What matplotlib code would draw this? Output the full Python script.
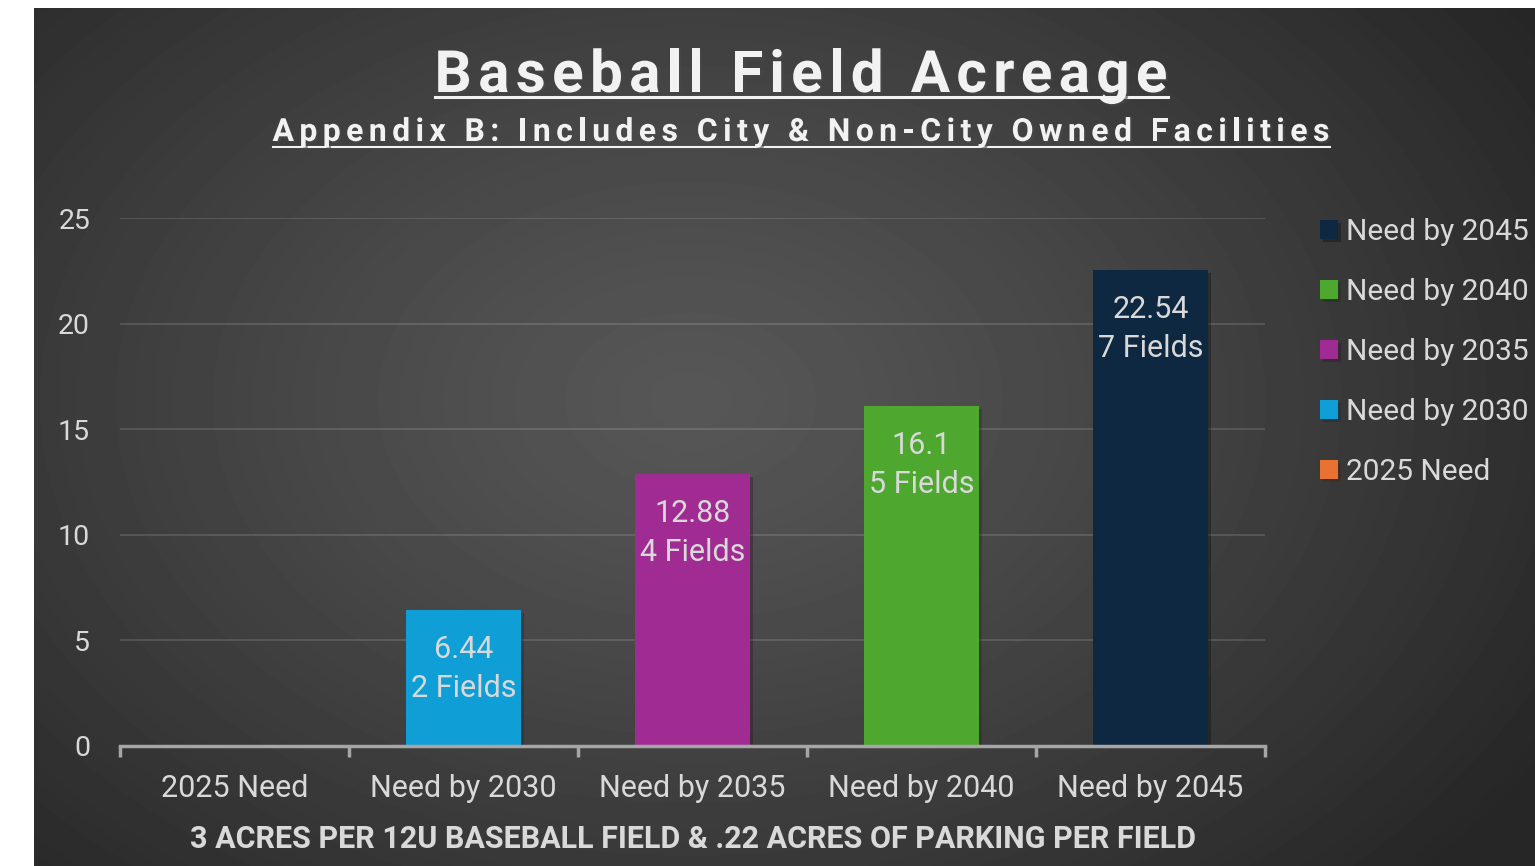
import matplotlib
matplotlib.use('Agg')
import matplotlib.pyplot as plt
import matplotlib.patheffects as pe
from matplotlib.font_manager import FontProperties
from matplotlib.lines import Line2D
import numpy as np

categories = ['2025 Need', 'Need by 2030', 'Need by 2035', 'Need by 2040', 'Need by 2045']
acres = [0, 6.44, 12.88, 16.1, 22.54]
fields = [0, 2, 4, 5, 7]
colors = ['#e97132', '#0f9ed5', '#a02b93', '#4ea72e', '#0e2841']
title = 'Baseball Field Acreage'
subtitle = 'Appendix B: Includes City & Non-City Owned Facilities'
xtitle = '3 ACRES PER 12U BASEBALL FIELD & .22 ACRES OF PARKING PER FIELD'

plt.rcParams['font.family'] = ['Roboto', 'DejaVu Sans']
txt = '#d9d9d9'

W, H = 1535, 866
fig = plt.figure(figsize=(W / 100, H / 100), dpi=100, facecolor='white')

# dark radial gradient panel
bg = fig.add_axes([34 / W, 0, 1 - 34 / W, 858 / H])
bg.axis('off')
yy, xx = np.mgrid[8:866, 34:1535]
r = np.sqrt(((xx - 690) / 1000.0) ** 2 + ((yy - 400) / 700.0) ** 2)
v = 0.34 - 0.19 * np.clip(r, 0, 1) ** 1.2
bg.imshow(v, cmap='gray', vmin=0, vmax=1, aspect='auto', interpolation='bilinear')

ax = fig.add_axes([120 / W, 120 / H, 1145 / W, 528 / H])
ax.set_facecolor('none')
x = np.arange(len(categories))
bars = ax.bar(x, acres, width=0.5, color=colors, zorder=3,
              path_effects=[pe.SimplePatchShadow(offset=(2, -2), alpha=0.35), pe.Normal()])
ax.set_xlim(-0.5, 4.5)
ax.set_ylim(0, 25)
ax.set_yticks(np.arange(0, 26, 5))
ax.yaxis.grid(True, color='white', alpha=0.13, lw=1.5, zorder=0)
for s in ['top', 'right', 'left']:
    ax.spines[s].set_visible(False)
ax.spines['bottom'].set_color('#a6a6a6')
ax.spines['bottom'].set_linewidth(2.5)
ax.spines['bottom'].set_zorder(4)

ax.set_xticks(np.arange(-0.5, 5, 1))
ax.set_xticklabels([])
ax.tick_params(axis='x', which='major', length=8, width=2.5, color='#a6a6a6')
ax.set_xticks(x, minor=True)
ax.set_xticklabels(categories, minor=True)
ax.tick_params(axis='x', which='minor', length=0, pad=20.5, labelsize=22, labelcolor=txt)
ax.tick_params(axis='y', length=0, pad=21.5, labelsize=20.5, labelcolor=txt)

for i in range(1, len(acres)):
    ax.annotate(f'{acres[i]:g}\n{fields[i]} Fields', (x[i], acres[i]), xytext=(0, -42.5),
                textcoords='offset points', ha='center', va='center', fontsize=22,
                color=txt, linespacing=1.41, zorder=5)

ax.set_xlabel(xtitle, fontsize=22, fontweight='bold', color=txt, labelpad=14.5)

ax.legend(list(bars)[::-1], categories[::-1], loc='upper left',
          bbox_to_anchor=(1320 / W, (866 - 218) / H), bbox_transform=fig.transFigure,
          frameon=False, fontsize=21.5, labelcolor=txt, handlelength=0.6, handleheight=0.6,
          handletextpad=0.27, labelspacing=1.07, borderaxespad=0, borderpad=0)


def spaced_text(s, xc, ybase, size, target_w, yunder, ulw):
    fp = FontProperties(family='Roboto', weight='bold', size=size)
    rend = fig.canvas.get_renderer()
    bar_w = rend.get_text_width_height_descent('|', fp, ismath=False)[0]

    def tw(t):
        return rend.get_text_width_height_descent(t + '|', fp, ismath=False)[0] - bar_w

    gap = (target_w - tw(s)) / (len(s) - 1)
    left = xc - target_w / 2
    for i, ch in enumerate(s):
        if ch == ' ':
            continue
        px = left + tw(s[:i]) + i * gap
        fig.text(px / W, 1 - ybase / H, ch, fontproperties=fp, color='#f2f2f2',
                 ha='left', va='baseline',
                 path_effects=[pe.SimplePatchShadow(offset=(1.5, -1.5), alpha=0.6), pe.Normal()])
    fig.add_artist(Line2D([left / W, (left + target_w) / W], [1 - yunder / H] * 2,
                          color='#f2f2f2', lw=ulw))


spaced_text(title, 801, 92, 42, 733, 96.5, 2.2)
spaced_text(subtitle, 801, 141, 23, 1057, 146.5, 1.5)

fig.savefig('out.png', dpi=100, facecolor=fig.get_facecolor())
